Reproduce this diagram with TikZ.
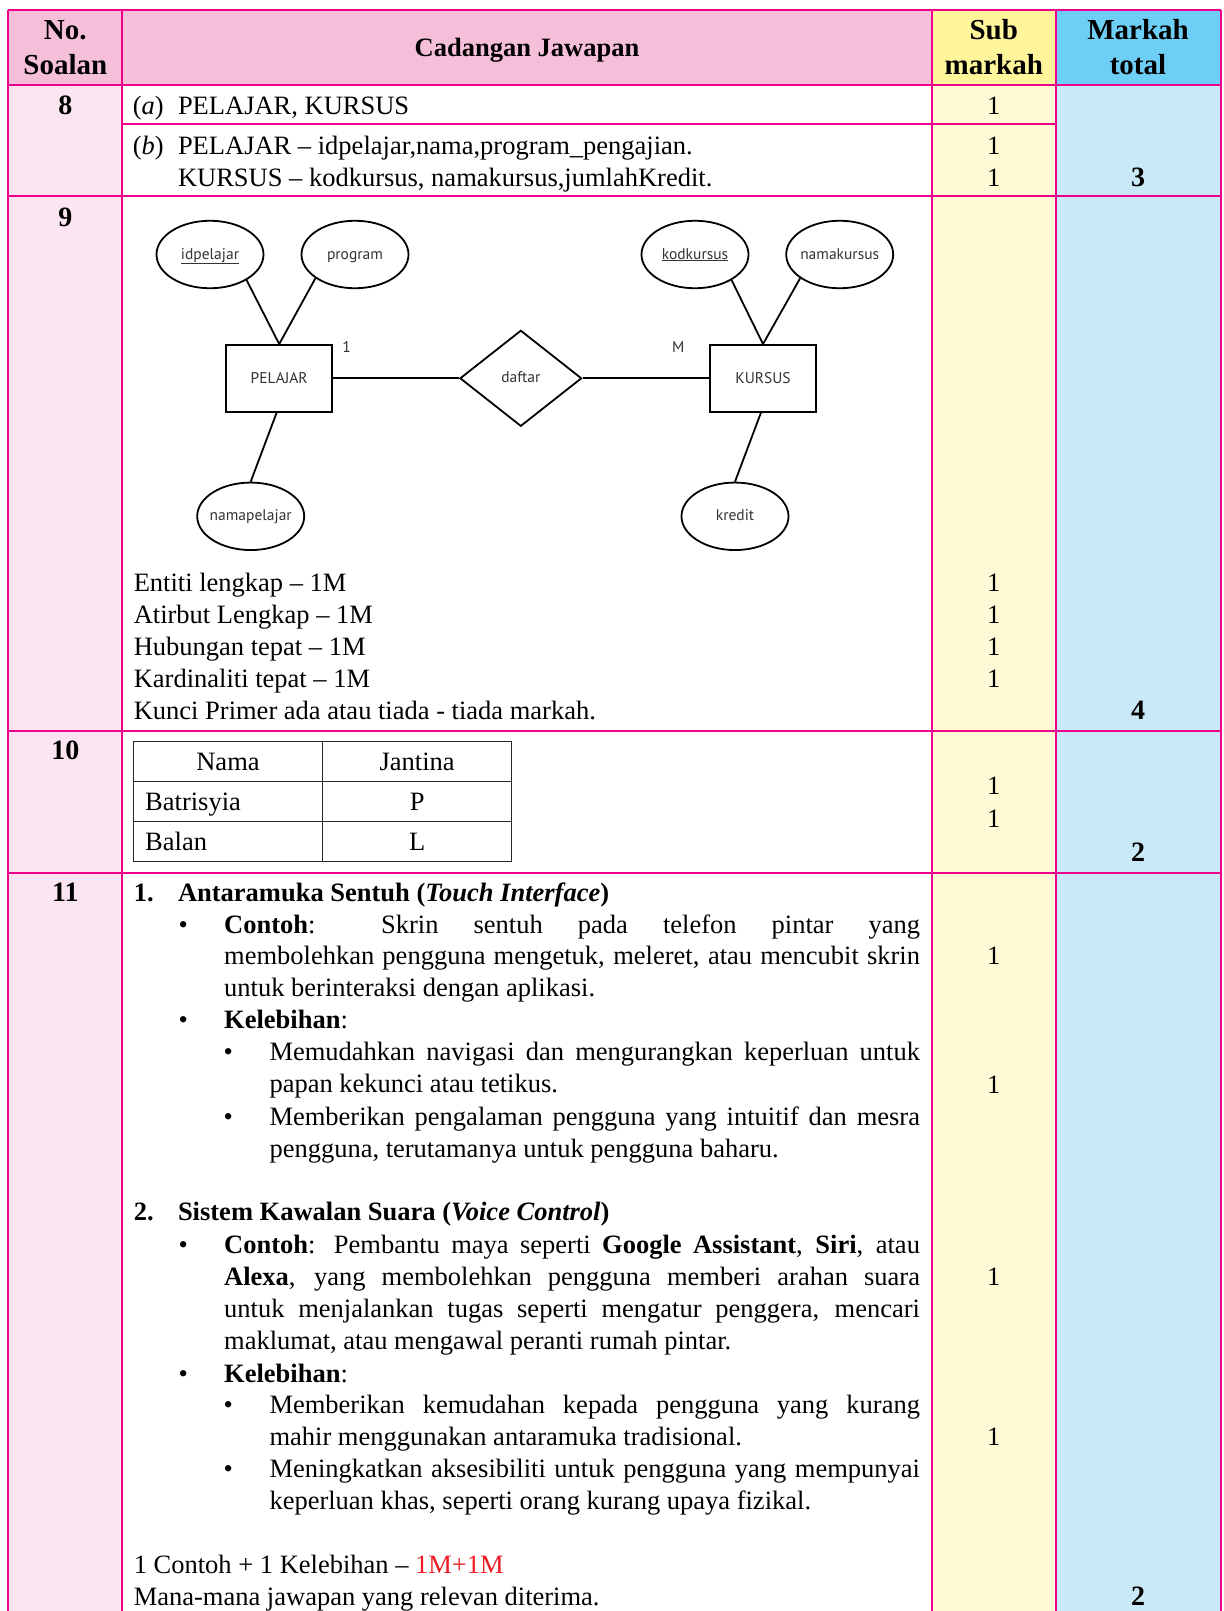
\documentclass[tikz,border=0pt]{standalone}
\usepackage{fontspec}
\setmainfont{Liberation Serif}
\newfontfamily\ersans{PT Sans}
\usetikzlibrary{shapes.geometric}
\definecolor{bordc}{HTML}{EC008C}
\definecolor{hpink}{HTML}{F6BFD9}
\definecolor{hyel}{HTML}{FFF59B}
\definecolor{hblue}{HTML}{6DCFF6}
\definecolor{bpink}{HTML}{FCE5F0}
\definecolor{byel}{HTML}{FFFAD5}
\definecolor{bblue}{HTML}{C9E9F8}
\definecolor{redm}{HTML}{ED1C24}
\definecolor{ertext}{HTML}{333333}
\newcommand\mybody{\fontsize{26.5}{32}\selectfont}
\newcommand\myhead{\fontsize{29}{32}\selectfont\bfseries}
\newcommand\mynum{\fontsize{28}{32}\selectfont\bfseries}
\newcommand\mysans{\ersans\fontsize{15.5}{18}\selectfont}
\newcommand\JL[1]{\makebox[695.8pt][s]{#1}}
\newcommand\JS[1]{\makebox[650.5pt][s]{#1}}
\newcommand\ZB[1]{\makebox[0pt]{\raisebox{-4.5pt}[0pt][0pt]{#1}}}
\tikzset{
  tx/.style={anchor=base west, inner sep=0pt, font=\mybody},
  tc/.style={anchor=base, inner sep=0pt, font=\mybody},
  tb/.style={anchor=base, inner sep=0pt, font=\mybody\bfseries},
  th/.style={anchor=base, inner sep=0pt, font=\myhead},
  tn/.style={anchor=base, inner sep=0pt, font=\mynum},
  grid/.style={draw=bordc, line width=2pt},
  attr/.style={draw, ellipse, line width=1.8pt, minimum width=107pt, minimum height=67.5pt, inner sep=0pt, font=\mysans, text=ertext},
  ent/.style={draw, rectangle, line width=1.8pt, minimum width=106pt, minimum height=66.7pt, inner sep=0pt, font=\mysans, text=ertext},
  rel/.style={draw, diamond, line width=1.8pt, minimum width=121.7pt, minimum height=96pt, inner sep=0pt, font=\mysans, text=ertext},
  erline/.style={line width=1.8pt},
  lbl/.style={inner sep=0pt, font=\mysans, text=ertext},
  tline/.style={line width=1pt, draw=black!85}
}
\begin{document}
\begin{tikzpicture}[x=1pt,y=-1pt]
\useasboundingbox[fill=white] (0,0) rectangle (1223,1611);
% fills
\fill[hpink] (8.2,10.3) rectangle (932,85.3);
\fill[hyel] (932,10.3) rectangle (1055.5,85.3);
\fill[hblue] (1055.5,10.3) rectangle (1221,85.3);
\fill[bpink] (8.2,85.3) rectangle (122.3,1611);
\fill[byel] (932,85.3) rectangle (1055.5,1611);
\fill[bblue] (1055.5,85.3) rectangle (1221,1611);
% grid
\draw[grid] (8.2,10.3) -- (1221,10.3);
\foreach \xx in {8.2,122.3,932,1055.5,1221} \draw[grid] (\xx,10.3) -- (\xx,1611);
\foreach \yy in {85.3,196.3,730.7,872.5} \draw[grid] (8.2,\yy) -- (1221,\yy);
\draw[grid] (122.3,124.4) -- (1055.5,124.4);
% header
\node[th] (h1) at (65.3,39.5) {No.};
\node[th] (h2) at (65.3,74.5) {Soalan};
\node[tb] (h3) at (527,57) {Cadangan Jawapan};
\node[th] (h4) at (993.8,39.5) {Sub};
\node[th] (h5) at (993.8,74.5) {markah};
\node[th] (h6) at (1138,39.5) {Markah};
\node[th] (h7) at (1138,74.5) {total};
% row 8
\node[tn] (n8) at (65.3,114) {8};
\node[tx] (a8) at (132.6,114) {(\textit{a})};
\node[tx] (a8t) at (177.8,114) {PELAJAR, KURSUS};
\node[tx] (b8) at (132.6,154) {(\textit{b})};
\node[tx] (b8t) at (177.8,154) {PELAJAR – idpelajar,nama,program\_pengajian.};
\node[tx] (b8u) at (177.8,186) {KURSUS – kodkursus, namakursus,jumlahKredit.};
\node[tc] (s8a) at (993.8,114) {1};
\node[tc] (s8b) at (993.8,154) {1};
\node[tc] (s8c) at (993.8,186) {1};
\node[tn] (m8) at (1138,186) {3};
% row 9
\node[tn] (n9) at (65.3,226) {9};
\node[attr] (idp) at (210,254.5) {\ZB{\underline{idpelajar}}};
\node[attr] (prog) at (355,254.5) {\ZB{program}};
\node[attr] (kod) at (695,254.5) {\ZB{\underline{kodkursus}}};
\node[attr] (namak) at (839.7,254.5) {\ZB{namakursus}};
\node[ent] (pel) at (279.2,378.3) {PELAJAR};
\node[ent] (kur) at (763,378.3) {KURSUS};
\node[rel] (daf) at (520.8,378.3) {\ZB{daftar}};
\node[attr] (namap) at (250.7,516.3) {\ZB{namapelajar}};
\node[attr] (kred) at (735,516.3) {\ZB{kredit}};
\node[lbl] (one) at (346.7,346.7) {1};
\node[lbl] (em) at (678.3,346.7) {M};
\draw[erline] (idp.-35) -- (pel.north);
\draw[erline] (prog.211) -- (pel.north);
\draw[erline] ([xshift=-2.5pt]pel.south) -- (namap.north);
\draw[erline] (pel) -- (daf);
\draw[erline] (daf) -- (kur);
\draw[erline] (kod.-35) -- (kur.north);
\draw[erline] (namak.211) -- (kur.north);
\draw[erline] ([xshift=-2pt]kur.south) -- (kred.north);
\node[tx] (c91) at (133.6,591.7) {Entiti lengkap – 1M};
\node[tx] (c92) at (133.6,623.6) {Atirbut Lengkap – 1M};
\node[tx] (c93) at (133.6,655.5) {Hubungan tepat – 1M};
\node[tx] (c94) at (133.6,687.3) {Kardinaliti tepat – 1M};
\node[tx] (c95) at (133.6,719.2) {Kunci Primer ada atau tiada - tiada markah.};
\node[tc] (s91) at (993.8,591.7) {1};
\node[tc] (s92) at (993.8,623.6) {1};
\node[tc] (s93) at (993.8,655.5) {1};
\node[tc] (s94) at (993.8,687.3) {1};
\node[tn] (m9) at (1138,719.2) {4};
% row 10
\node[tn] (n10) at (65.3,759) {10};
\draw[tline] (133.3,741.7) rectangle (511.7,861);
\draw[tline] (322.7,741.7) -- (322.7,861);
\draw[tline] (133.3,781.7) -- (511.7,781.7);
\draw[tline] (133.3,821.3) -- (511.7,821.3);
\node[tc] (tn) at (228,770.7) {Nama};
\node[tc] (tj) at (417.2,770.7) {Jantina};
\node[tx] (tb1) at (145,810.3) {Batrisyia};
\node[tc] (tp) at (417.2,810.3) {P};
\node[tx] (tb2) at (145,850.2) {Balan};
\node[tc] (tl) at (417.2,850.2) {L};
\node[tc] (s101) at (993.8,794.2) {1};
\node[tc] (s102) at (993.8,827.1) {1};
\node[tn] (m10) at (1138,861) {2};
% row 11
\node[tn] (n11) at (65.3,901) {11};
\node[tx] (p1n) at (133.6,901) {\textbf{1.}};
\node[tx] (p1h) at (177.8,901) {\textbf{Antaramuka Sentuh (\textit{Touch Interface})}};
\node[tx] (bu1) at (178.4,933) {•};
\node[tx] (l1) at (224,933) {\JL{\textbf{Contoh}: Skrin sentuh pada telefon pintar yang}};
\node[tx] (l2) at (224,964.8) {\JL{membolehkan pengguna mengetuk, meleret, atau mencubit skrin}};
\node[tx] (l3) at (224,996.6) {untuk berinteraksi dengan aplikasi.};
\node[tx] (bu2) at (178.4,1028.5) {•};
\node[tx] (l4) at (224,1028.5) {\textbf{Kelebihan}:};
\node[tx] (bu3) at (223.4,1060.4) {•};
\node[tx] (l5) at (269.3,1060.4) {\JS{Memudahkan navigasi dan mengurangkan keperluan untuk}};
\node[tx] (l6) at (269.3,1092.2) {papan kekunci atau tetikus.};
\node[tx] (bu4) at (223.4,1125.1) {•};
\node[tx] (l7) at (269.3,1125.1) {\JS{Memberikan pengalaman pengguna yang intuitif dan mesra}};
\node[tx] (l8) at (269.3,1157) {pengguna, terutamanya untuk pengguna baharu.};
\node[tx] (p2n) at (133.6,1220.7) {\textbf{2.}};
\node[tx] (p2h) at (177.8,1220.7) {\textbf{Sistem Kawalan Suara (\textit{Voice Control})}};
\node[tx] (bu5) at (178.4,1253.6) {•};
\node[tx] (l9) at (224,1253.6) {\JL{\textbf{Contoh}: Pembantu maya seperti \textbf{Google Assistant}, \textbf{Siri}, atau}};
\node[tx] (l10) at (224,1285.4) {\JL{\textbf{Alexa}, yang membolehkan pengguna memberi arahan suara}};
\node[tx] (l11) at (224,1317.3) {\JL{untuk menjalankan tugas seperti mengatur penggera, mencari}};
\node[tx] (l12) at (224,1349.2) {maklumat, atau mengawal peranti rumah pintar.};
\node[tx] (bu6) at (178.4,1382) {•};
\node[tx] (l13) at (224,1382) {\textbf{Kelebihan}:};
\node[tx] (bu7) at (223.4,1413.9) {•};
\node[tx] (l14) at (269.3,1413.9) {\JS{Memberikan kemudahan kepada pengguna yang kurang}};
\node[tx] (l15) at (269.3,1445.8) {mahir menggunakan antaramuka tradisional.};
\node[tx] (bu8) at (223.4,1477.6) {•};
\node[tx] (l16) at (269.3,1477.6) {\JS{Meningkatkan aksesibiliti untuk pengguna yang mempunyai}};
\node[tx] (l17) at (269.3,1509.5) {keperluan khas, seperti orang kurang upaya fizikal.};
\node[tx] (l18) at (133.6,1573.2) {1 Contoh + 1 Kelebihan – \textcolor{redm}{1M+1M}};
\node[tx] (l19) at (133.6,1605.1) {Mana-mana jawapan yang relevan diterima.};
\node[tc] (s111) at (993.8,964.8) {1};
\node[tc] (s112) at (993.8,1093.3) {1};
\node[tc] (s113) at (993.8,1285.4) {1};
\node[tc] (s114) at (993.8,1445.8) {1};
\node[tn] (m11) at (1138,1605.1) {2};
\end{tikzpicture}
\end{document}
